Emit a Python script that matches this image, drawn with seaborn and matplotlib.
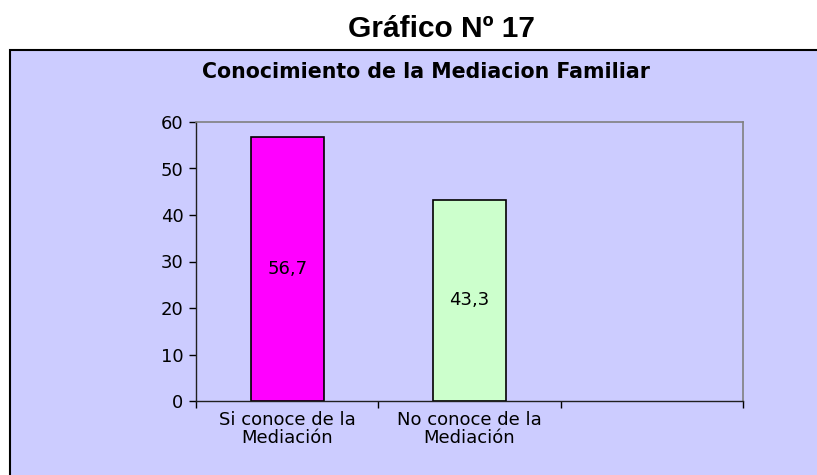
import matplotlib
matplotlib.use("Agg")
import matplotlib.pyplot as plt
from matplotlib.patches import Rectangle
import seaborn as sns
import pandas as pd

# Data
categories = ["Si conoce de la\nMediación", "No conoce de la\nMediación"]
values = [56.7, 43.3]
bar_colors = ["#FF00FF", "#CCFFCC"]
y_ticks = [0, 10, 20, 30, 40, 50, 60]

sns.set_style("white")
plt.rcParams['font.family'] = ['Liberation Sans', 'DejaVu Sans']

# text inside the box is set wide in the original, DejaVu is the closest wide face
wide = ['DejaVu Sans']

df = pd.DataFrame({"cat": categories, "val": values})

fig = plt.figure(figsize=(8.17, 4.75), dpi=100)
fig.patch.set_facecolor("white")

# lavender chart box, runs off the right and bottom edge
box = Rectangle((10 / 817, -0.01), 1.0, 1 - 50 / 475 + 0.01, transform=fig.transFigure,
                facecolor="#CCCCFF", edgecolor="black", linewidth=1.5, zorder=-1)
fig.patches.append(box)

fig.text(441 / 817, 1 - 37 / 475, "Gráfico Nº 17", ha="center", va="baseline",
         fontsize=21.5, fontweight="bold", color="black")
fig.text(426 / 817, 1 - 78 / 475, "Conocimiento de la Mediacion Familiar", ha="center",
         va="baseline", fontsize=14.8, fontweight="bold", color="black", family=wide)

ax = fig.add_axes([196 / 817, 1 - 401 / 475, (743 - 196) / 817, (401 - 122) / 475])
ax.set_facecolor("#CCCCFF")
ax.set_zorder(2)

sns.barplot(data=df, x="cat", y="val", hue="cat", palette=bar_colors, legend=False,
            saturation=1, width=0.4, edgecolor="black", linewidth=1.2, ax=ax)

for cont, v in zip(ax.containers, values):
    ax.bar_label(cont, labels=[f"{v:.1f}".replace(".", ",")], label_type="center",
                 fontsize=13, color="black", family=wide)

ax.set_xlim(-0.5, 2.5)
ax.set_ylim(0, 60)
ax.set_yticks(y_ticks)
ax.set_yticklabels([str(t) for t in y_ticks], family=wide, fontsize=13, color="black")
ax.set_xlabel("")
ax.set_ylabel("")

# category boundaries as tick marks, labels in the middle of each slot
ax.set_xticks([-0.5, 0.5, 1.5, 2.5])
ax.set_xticklabels([])
ax.set_xticks([0, 1], minor=True)
ax.set_xticklabels(categories, minor=True, fontsize=13, color="black", family=wide,
                   linespacing=1.05)
ax.tick_params(axis="x", which="minor", length=0, pad=7)
ax.tick_params(axis="x", which="major", direction="out", length=5, width=1, color="black", bottom=True)
ax.tick_params(axis="y", direction="out", length=5, width=1, color="black", left=True, pad=4)

for side in ["top", "right"]:
    ax.spines[side].set_color("#808080")
    ax.spines[side].set_linewidth(1.2)
for side in ["left", "bottom"]:
    ax.spines[side].set_color("#202020")
    ax.spines[side].set_linewidth(1.0)

fig.savefig("out.png", dpi=100)
